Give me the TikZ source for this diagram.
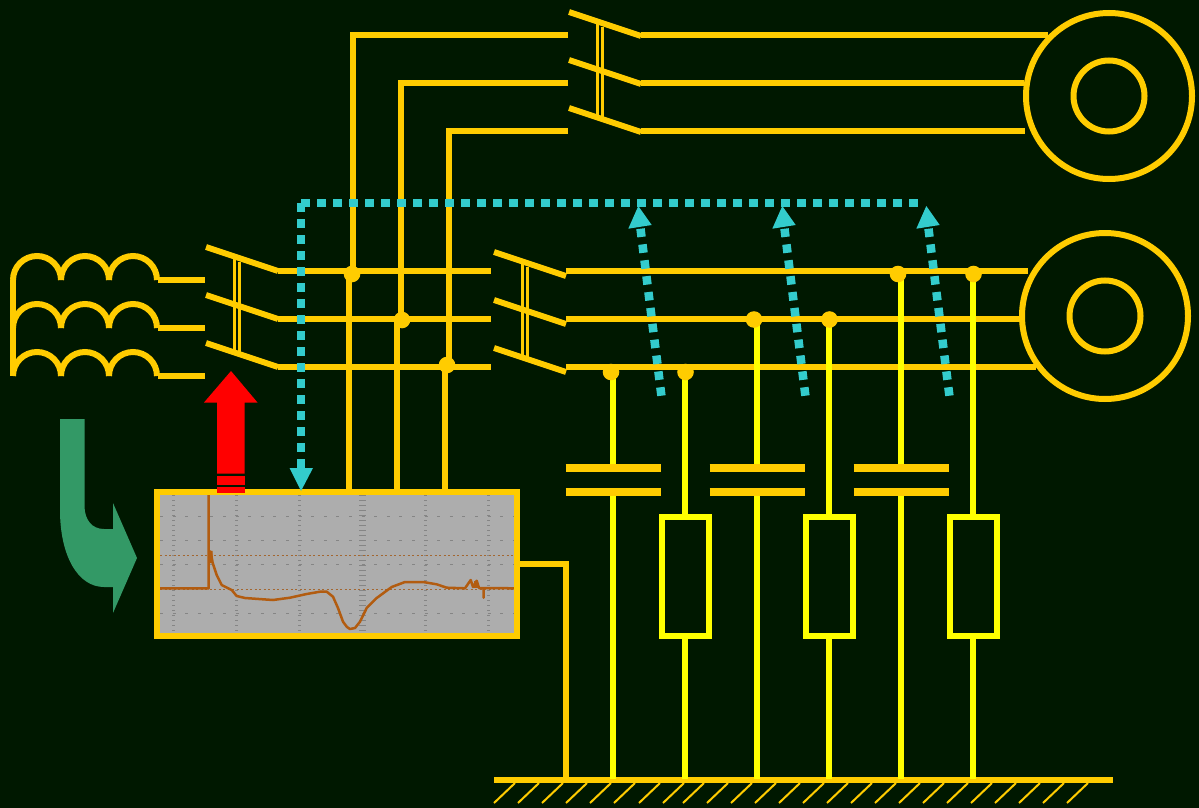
\documentclass[tikz,border=0pt]{standalone}
\usetikzlibrary{calc}
\definecolor{bgdark}{RGB}{0,24,0}
\definecolor{busgold}{RGB}{255,204,0}
\definecolor{loadyellow}{RGB}{255,255,0}
\definecolor{signalteal}{RGB}{51,204,204}
\definecolor{flowgreen}{RGB}{51,153,102}
\definecolor{scopegray}{RGB}{173,173,173}
\definecolor{tracebrown}{RGB}{178,92,16}
\tikzset{
	bus/.style={line width=6pt, color=busgold},
	load/.style={line width=5.5pt, color=loadyellow},
	gang/.style={line width=3pt, color=busgold},
	signal/.style={line width=8.5pt, color=signalteal, dash pattern=on 8.5pt off 7.5pt},
	gridcol/.style={line width=3pt, color=black!48, dash pattern=on 1.2pt off 3.8pt},
	gridrow/.style={line width=1.3pt, color=black!48, dash pattern=on 3pt off 9.6pt},
	levelline/.style={line width=1pt, color=tracebrown!70!gray, dash pattern=on 2pt off 2.5pt}
}
\def\tripleswitch(#1,#2){
	\foreach \k in {0,48,96} \draw[bus] (#1, #2+\k) -- (#1+72, #2+24+\k);
	\draw[gang] (#1+28, #2+12) -- (#1+28, #2+103);
	\draw[gang] (#1+33, #2+15) -- (#1+33, #2+106);
}
\def\machine(#1,#2){
	\draw[bus] (#1, #2) circle (83);
	\draw[bus] (#1, #2) circle (35.5);
}
\begin{document}
\begin{tikzpicture}[x=1pt, y=-1pt]
	%%%%% START %%%%%
	\useasboundingbox (0, 0) rectangle (1199, 808);
	\fill[bgdark] (0, 0) rectangle (1199, 808);

	% generator coils
	\foreach \r in {280, 328, 376} {
		\foreach \s in {13, 61, 109} \draw[bus] (\s, \r) arc (180:0:24pt);
		\draw[bus] (158, \r) -- (205, \r);
	}
	\draw[bus] (13, 280) -- (13, 376);

	% switches
	\tripleswitch(206, 247)
	\tripleswitch(494, 252)
	\tripleswitch(569, 12)

	% busbars
	\foreach \r in {271, 319, 367} \draw[bus] (278, \r) -- (491, \r);
	\draw[bus] (566, 271) -- (1028, 271);
	\draw[bus] (566, 319) -- (1022, 319);
	\draw[bus] (566, 367) -- (1036, 367);
	\draw[bus] (641, 35) -- (1048, 35);
	\draw[bus] (641, 83) -- (1024, 83);
	\draw[bus] (641, 131) -- (1025, 131);
	\draw[bus, line join=miter] (568, 35) -- (353, 35) -- (353, 272);
	\draw[bus, line join=miter] (568, 83) -- (401, 83) -- (401, 319);
	\draw[bus, line join=miter] (568, 131) -- (449, 131) -- (449, 365);
	\draw[bus] (349, 274) -- (349, 492);
	\draw[bus] (397, 320) -- (397, 492);
	\draw[bus] (445, 365) -- (445, 492);

	% machines
	\machine(1109, 96)
	\machine(1105, 316)

	% earth
	\draw[bus] (494, 780) -- (1113, 780);
	\foreach \h in {515, 539, 563, 587, 611, 635, 660, 684} \draw[line width=2pt, color=busgold] (\h, 783) -- (\h-21, 803);
	\foreach \h in {704, 728, ..., 1088} \draw[line width=2pt, color=busgold] (\h, 783) -- (\h-21, 803);
	\draw[bus] (517, 564) -- (568, 564);
	\draw[bus] (565.5, 561) -- (565.5, 780);

	% capacitors and resistors
	\foreach \c/\t in {613/372, 757/319, 901/274} {
		\draw[load] (\c, \t) -- (\c, 467);
		\draw[load] (\c, 492) -- (\c, 779);
		\draw[line width=8pt, color=busgold] (\c-47.5, 467.5) -- (\c+48, 467.5);
		\draw[line width=8pt, color=busgold] (\c-47.5, 492) -- (\c+48, 492);
	}
	\foreach \c/\t in {685/372, 829/319, 973/274} {
		\draw[load] (\c, \t) -- (\c, 516);
		\draw[load] (\c, 636) -- (\c, 779);
		\draw[load, line width=6pt] (\c-23.5, 516.5) rectangle (\c+24, 635.5);
	}

	% junction dots
	\foreach \x/\y in {352/274, 402/320, 447/365, 611/372, 685.5/372, 754/319.5, 829.5/319.5, 898/274, 973.5/274}
		\fill[busgold] (\x, \y) circle (8.3);

	% oscilloscope
	\fill[scopegray] (157, 492) rectangle (517, 636);
	\foreach \v in {173.3, 236.3, 299.7, 425.7, 488.7} \draw[gridcol] (\v, 495) -- (\v, 633);
	\draw[gridcol, line width=7pt] (362.7, 495) -- (362.7, 633);
	\foreach \h in {516.7, 540.7, 564.7, 613.3} \draw[gridrow] (160, \h) -- (514, \h);
	\draw[levelline] (160, 555.5) -- (514, 555.5);
	\draw[levelline] (160, 589) -- (514, 589);
	\draw[line width=2.5pt, color=tracebrown, line join=round]
		(160, 588.3) -- (208.7, 588.3) -- (208.7, 495) -- (208.7, 551.7) -- (210.7, 551.7) -- (212.7, 563) -- (216.7, 575) -- (221.7, 585)
		-- (231.7, 590) -- (236.7, 596) -- (245, 598) -- (263, 599.3) -- (273, 600) -- (290, 597.7) -- (306.7, 594) -- (320, 591.7)
		-- (326.7, 591.7) -- (333, 596.7) -- (338, 608) -- (343, 621.7) -- (347, 627) -- (350, 629) -- (355, 628) -- (360, 621.7) -- (366.7, 608)
		-- (376.7, 598) -- (391.7, 587) -- (405, 582) -- (423, 582) -- (436.7, 584.3) -- (446.7, 587.7) -- (465, 588.3) -- (470.7, 580)
		-- (473, 587) -- (476.7, 580.7) -- (479, 588) -- (483.7, 588) -- (483.7, 597.7) -- (483.7, 588) -- (514, 588.3);
	\draw[line width=4pt, color=tracebrown] (210.5, 551) -- (211, 563);
	\draw[line width=4pt, color=tracebrown] (476, 581) -- (476, 588);
	\draw[line width=6pt, color=busgold] (157, 492) rectangle (517, 636);

	% red arrow
	\fill[red] (231, 371) -- (257.5, 402.5) -- (244.5, 402.5) -- (244.5, 473.5) -- (217, 473.5) -- (217, 402.5) -- (204, 402.5) -- cycle;
	\fill[red] (217, 476) rectangle (244.5, 485);
	\fill[red] (217, 487) rectangle (244.5, 493);

	% green arrow
	\fill[flowgreen] (60, 419) -- (84.5, 419) -- (84.5, 507) .. controls (85, 520) and (92, 529) .. (104, 529) -- (113, 529) -- (113, 503)
		-- (137, 558) -- (113, 613) -- (113, 587) -- (104, 587) .. controls (78, 587) and (60, 556) .. (60, 510) -- cycle;

	% dotted signal paths
	\draw[signal] (301, 203) -- (921, 203);
	\draw[signal] (301, 203) -- (301, 468);
	\fill[signalteal] (301, 491) -- (289.5, 468) -- (313, 468) -- cycle;
	\foreach \s in {0, 144, 288} {
		\draw[signal] (661.4+\s, 395.7) -- (640.5+\s, 228.7);
		\fill[signalteal] (638.3+\s, 206) -- (651.7+\s, 225) -- (628.3+\s, 228.7) -- cycle;
	}
	%%%%% END %%%%%
\end{tikzpicture}
\end{document}
